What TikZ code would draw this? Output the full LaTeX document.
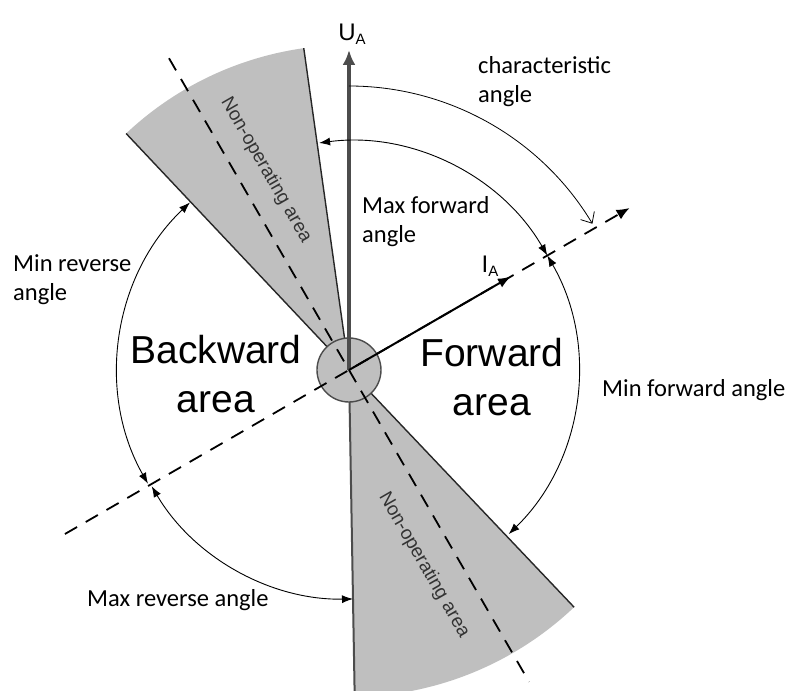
\documentclass[tikz,border=0pt]{standalone}
\usepackage{fontspec}
\usepackage{tikz}
\usetikzlibrary{arrows.meta}
\newfontfamily\calfont{Carlito}
\newfontfamily\arialfont{Liberation Sans}
\tikzset{
  sector/.style={fill=black!25},
  sectoredge/.style={line width=1.4pt, black!85},
  dashline/.style={line width=1.8pt, dash pattern=on 14pt off 10pt},
  anglearc/.style={{Latex[length=11pt,width=8pt]}-{Latex[length=11pt,width=8pt]}, line width=0.9pt},
  chararc/.style={-{Straight Barb[length=9pt,width=16pt]}, line width=0.8pt},
  anglelabel/.style={font=\calfont\fontsize{24.5}{29}\selectfont, align=left, inner sep=0pt, anchor=base west},
  arealabel/.style={font=\arialfont\fontsize{39}{49}\selectfont, align=center, inner sep=0pt, anchor=base},
  nonoplabel/.style={font=\arialfont\fontsize{19}{22}\selectfont, text=black!80, rotate=-60, inner sep=0pt},
  axislabel/.style={font=\arialfont\fontsize{24}{26}\selectfont, inner sep=0pt}
}
\newcommand{\subA}{\raisebox{-4pt}{\fontsize{15}{15}\selectfont A}}

\begin{document}
\begin{tikzpicture}[x=1pt, y=1pt]
  \useasboundingbox (-349,-321) rectangle (436,370);
  \clip (-349,-321) rectangle (436,370);
  \coordinate (O) at (0,0);

  % non-operating sectors
  \fill[sector] (O) -- (98:325) arc[start angle=98, end angle=133.3, radius=325pt] -- cycle;
  \fill[sector] (O) -- (-89:327) arc[start angle=-89, end angle=-46.5, radius=327pt] -- cycle;
  \draw[sectoredge] (O) -- (98:325);
  \draw[sectoredge] (O) -- (133.3:325);
  \draw[sectoredge] (O) -- (-46.5:327);
  \draw[sectoredge, black!70, line width=2pt] (O) -- (-89:327);
  \node[nonoplabel] (nonopup) at (-83,200) {Non-operating area};
  \node[nonoplabel] (nonopdown) at (75,-195) {Non-operating area};

  % origin
  \draw[fill=black!25, draw=black!70, line width=1.4pt] (O) circle[radius=32pt];

  % dashed lines
  \draw[dashline] (120:360) -- (-60:360);
  \draw[dashline, -{Latex[length=13pt,width=11pt]}] (210:328) -- (30:324);

  % U_A and I_A
  \draw[line width=3.5pt, black!70, -{Latex[length=15pt,width=13pt]}] (O) -- (90:320);
  \node[axislabel] (ua) at (3,336) {U\subA};
  \draw[line width=2pt, -{Latex[length=13pt,width=10pt]}] (O) -- (30:187);
  \node[axislabel] (ia) at (141,104) {I\subA};

  % angle arcs
  \draw[chararc] (90:284) arc[start angle=90, end angle=31, radius=284pt];
  \draw[anglearc] (97.5:229) arc[start angle=97.5, end angle=30, radius=229pt];
  \draw[anglearc] (30:229) arc[start angle=30, end angle=-45.8, radius=229pt];
  \draw[anglearc] (133.5:231) arc[start angle=133.5, end angle=209.5, radius=231pt];
  \draw[anglearc] (210.5:229) arc[start angle=210.5, end angle=271, radius=229pt];

  % labels
  \node[anglelabel] (charlbl) at (129,267) {characteristic\\angle};
  \node[anglelabel] (maxfwd) at (13,127) {Max forward\\angle};
  \node[anglelabel] (minrev) at (-336,70) {Min reverse\\angle};
  \node[anglelabel] (minfwd) at (253,-26) {Min forward angle};
  \node[anglelabel] (maxrev) at (-262,-236) {Max reverse angle};
  \node[arealabel] (backward) at (-133,-42) {Backward\\area};
  \node[arealabel] (forward) at (143,-45) {Forward\\area};
\end{tikzpicture}
\end{document}
